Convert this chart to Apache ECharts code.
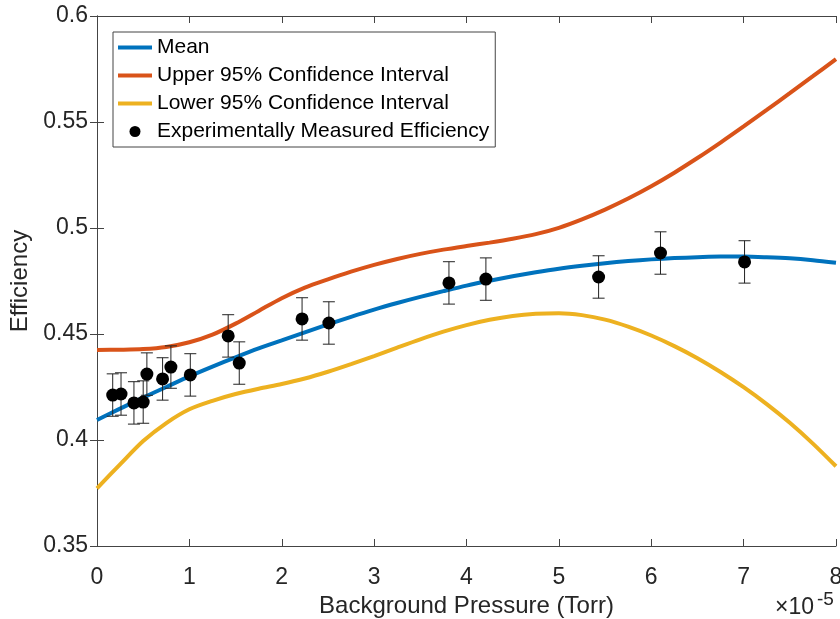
<!DOCTYPE html>
<html>
<head>
<meta charset="utf-8">
<script src="https://cdn.jsdelivr.net/npm/echarts@6/dist/echarts.min.js"></script>
<style>
  html, body { margin: 0; padding: 0; background: #fff; }
  #main { width: 840px; height: 619px; }
</style>
</head>
<body>
<div id="main"></div>
<script>
// background pressure, in units of 1e-5 Torr
const curveX = [0, 0.25, 0.5, 0.75, 1, 1.25, 1.5, 1.75, 2, 2.25, 2.5, 2.75, 3, 3.25, 3.5, 3.75,
  4, 4.25, 4.5, 4.75, 5, 5.25, 5.5, 5.75, 6, 6.25, 6.5, 6.75, 7, 7.25, 7.5, 7.75, 8]
const meanEff = [0.4094, 0.4148, 0.420, 0.425, 0.430, 0.4346, 0.439, 0.4432, 0.447, 0.4508,
  0.4545, 0.4581, 0.4615, 0.4646, 0.4675, 0.4702, 0.4728, 0.4751, 0.4772, 0.4791,
  0.4808, 0.4822, 0.4834, 0.4844, 0.4852, 0.4858, 0.4862, 0.4865, 0.4865, 0.4862,
  0.4857, 0.4848, 0.4836]
const upperCI = [0.4425, 0.4426, 0.4429, 0.4439, 0.4461, 0.4497, 0.4549, 0.4609, 0.4669, 0.4719,
  0.4758, 0.4794, 0.4826, 0.4854, 0.4878, 0.4898, 0.4915, 0.4931, 0.4949, 0.4971,
  0.5001, 0.5041, 0.5087, 0.5139, 0.5197, 0.5261, 0.5330, 0.5403, 0.5479, 0.5557,
  0.5636, 0.5716, 0.5797]
const lowerCI = [0.3772, 0.3885, 0.3995, 0.4080, 0.4145, 0.4185, 0.4217, 0.4242, 0.4264, 0.4290,
  0.4322, 0.4358, 0.4396, 0.4436, 0.4475, 0.4511, 0.4542, 0.4567, 0.4585, 0.4595,
  0.4598, 0.4589, 0.4568, 0.4535, 0.4493, 0.4443, 0.4386, 0.4321, 0.4249, 0.4169,
  0.4081, 0.3983, 0.3876]

// experimentally measured points
const measX = [0.17, 0.26, 0.40, 0.50, 0.54, 0.71, 0.80, 1.01, 1.42, 1.54, 2.22, 2.51,
  3.81, 4.21, 5.43, 6.10, 7.01]
const measEff = [0.4212, 0.4217, 0.4175, 0.4179, 0.4311, 0.4288, 0.4344, 0.4307, 0.4491, 0.4363,
  0.4571, 0.4552, 0.4741, 0.4759, 0.4769, 0.4882, 0.4840]
const measErr = [0.01, 0.01, 0.01, 0.01, 0.01, 0.01, 0.01, 0.01, 0.01, 0.01,
  0.01, 0.01, 0.01, 0.01, 0.01, 0.01, 0.01]

const textColor = '#262626'
const fontFamily = 'Arial, "Liberation Sans", Helvetica, sans-serif'
const lineIcon = 'path://M0,0L34,0L34,4L0,4Z'

const chart = echarts.init(document.getElementById('main'))

function curve(name, values, color) {
  return {
    name: name,
    type: 'line',
    data: curveX.map((x, i) => [x, values[i]]),
    smooth: 0.3,
    symbol: 'none',
    lineStyle: { color: color, width: 4 },
    itemStyle: { color: color },
    z: 2
  }
}

const axisBase = {
  type: 'value',
  axisLine: { show: true, lineStyle: { color: '#444', width: 1 } },
  axisTick: { show: true, inside: true, length: 7, lineStyle: { color: '#444' } },
  splitLine: { show: false }
}

const option = {
  animation: false,
  backgroundColor: '#fff',
  textStyle: { fontFamily: fontFamily },
  grid: { left: 97, right: 4, top: 16, bottom: 73, outerBoundsMode: 'none', containLabel: false },
  legend: {
    orient: 'vertical',
    left: 113,
    top: 32,
    padding: [5, 6, 5, 5],
    itemGap: 7,
    itemWidth: 34,
    itemHeight: 11,
    backgroundColor: '#fff',
    borderColor: '#444',
    borderWidth: 1,
    borderRadius: 0,
    textStyle: { fontSize: 21, lineHeight: 21, color: '#000', fontFamily: fontFamily },
    data: [
      { name: 'Mean', icon: lineIcon },
      { name: 'Upper 95% Confidence Interval', icon: lineIcon },
      { name: 'Lower 95% Confidence Interval', icon: lineIcon },
      { name: 'Experimentally Measured Efficiency', icon: 'circle' }
    ]
  },
  xAxis: [
    Object.assign({}, axisBase, {
      min: 0,
      max: 8,
      interval: 1,
      name: 'Background Pressure (Torr)',
      nameLocation: 'middle',
      nameGap: 48,
      nameTextStyle: { fontSize: 24, color: textColor },
      axisLabel: { fontSize: 23, color: textColor, margin: 20 }
    }),
    Object.assign({}, axisBase, {
      position: 'top',
      min: 0,
      max: 8,
      interval: 1,
      axisLabel: { show: false }
    })
  ],
  yAxis: [
    Object.assign({}, axisBase, {
      min: 0.35,
      max: 0.6,
      interval: 0.05,
      name: 'Efficiency',
      nameLocation: 'middle',
      nameGap: 62,
      nameTextStyle: { fontSize: 24, color: textColor },
      axisLabel: { fontSize: 23, color: textColor, margin: 9 }
    }),
    Object.assign({}, axisBase, {
      position: 'right',
      min: 0.35,
      max: 0.6,
      interval: 0.05,
      axisLabel: { show: false }
    })
  ],
  graphic: [
    {
      type: 'text',
      left: 775,
      top: 596,
      style: { text: '×10', fontSize: 23, fill: textColor, fontFamily: fontFamily }
    },
    {
      type: 'text',
      left: 817,
      top: 590,
      style: { text: '-5', fontSize: 19, fill: textColor, fontFamily: fontFamily }
    }
  ],
  series: [
    curve('Mean', meanEff, '#0072BD'),
    curve('Upper 95% Confidence Interval', upperCI, '#D95319'),
    curve('Lower 95% Confidence Interval', lowerCI, '#EDB120'),
    {
      name: 'errorbars',
      type: 'custom',
      data: measX.map((x, i) => [x, measEff[i], measErr[i]]),
      renderItem: function (params, api) {
        const x = api.value(0)
        const y = api.value(1)
        const e = api.value(2)
        const top = api.coord([x, y + e])
        const bot = api.coord([x, y - e])
        const w = 6
        const style = { stroke: '#222', lineWidth: 1 }
        return {
          type: 'group',
          children: [
            { type: 'line', shape: { x1: top[0], y1: top[1], x2: bot[0], y2: bot[1] }, style: style },
            { type: 'line', shape: { x1: top[0] - w, y1: top[1], x2: top[0] + w, y2: top[1] }, style: style },
            { type: 'line', shape: { x1: bot[0] - w, y1: bot[1], x2: bot[0] + w, y2: bot[1] }, style: style }
          ]
        }
      },
      z: 3
    },
    {
      name: 'Experimentally Measured Efficiency',
      type: 'scatter',
      data: measX.map((x, i) => [x, measEff[i]]),
      symbol: 'circle',
      symbolSize: 13,
      itemStyle: { color: '#000', opacity: 1 },
      z: 4
    }
  ]
}

chart.setOption(option)
</script>
</body>
</html>
